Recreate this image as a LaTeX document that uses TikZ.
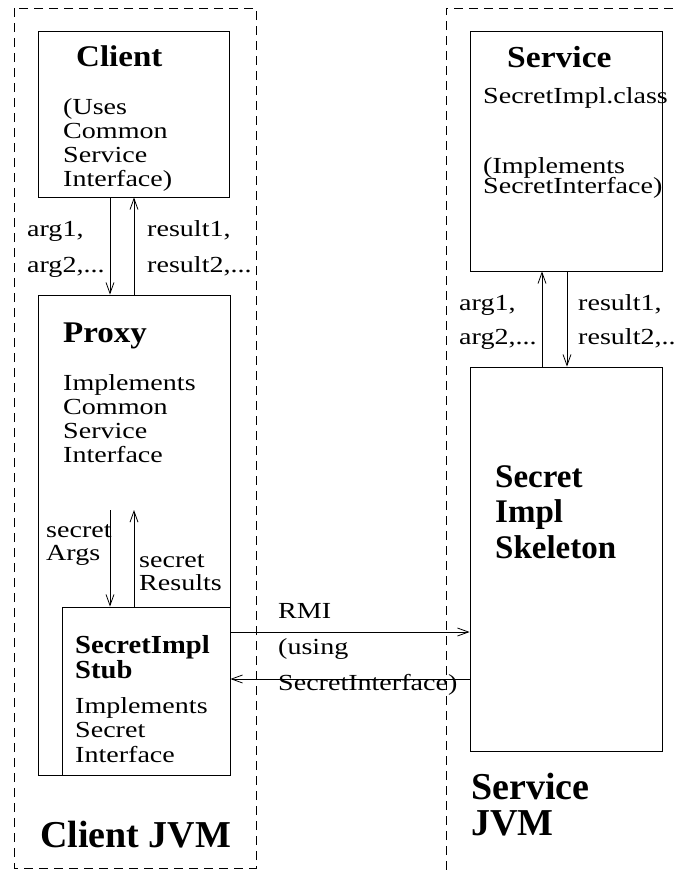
\documentclass[tikz,border=0pt]{standalone}
\usepackage{fontspec}
\setmainfont{Liberation Serif}[FakeStretch=1.22]
\newfontfamily\ttlfont{Liberation Serif}[FakeStretch=1.1]
\newfontfamily\bigfont{Liberation Serif}
\newcommand\tightlines{\lineskiplimit=-50pt\relax}
\usetikzlibrary{arrows.meta}
\begin{document}
\begin{tikzpicture}[x=1pt,y=-1pt,
  box/.style={draw, line width=0.8pt, inner sep=0pt, fill=white},
  arr/.style={line width=0.8pt, -{Straight Barb[length=11pt,width=8pt]}},
  jvm/.style={line width=0.8pt, dash pattern=on 9pt off 6pt},
  txt/.style={anchor=base west, inner sep=0pt, align=left, font=\fontsize{23}{24}\selectfont},
  lbl/.style={anchor=base west, inner sep=0pt, align=left, font=\fontsize{23}{36}\selectfont},
  ttl/.style={anchor=base west, inner sep=0pt, align=left, font=\ttlfont\bfseries\fontsize{30}{30}\selectfont},
  big/.style={anchor=base west, inner sep=0pt, align=left, font=\bigfont\bfseries\fontsize{38}{36}\selectfont}
]
\useasboundingbox (0,0) rectangle (676,870);
% JVM regions
\draw[jvm] (14,8) rectangle (256,868);
\draw[jvm] (446,870) -- (446,8) -- (676,8);
% boxes
\node[box, minimum width=191pt, minimum height=166pt] (client) at (133.5,114) {};
\node[box, minimum width=192pt, minimum height=480pt] (proxy) at (134,535) {};
\node[box, minimum width=168pt, minimum height=168pt] (stub) at (146,691) {};
\node[box, minimum width=192pt, minimum height=240pt] (service) at (566,151) {};
\node[box, minimum width=192pt, minimum height=384pt] (skel) at (566,559) {};
% texts (multi-line nodes anchored at the baseline of their last line)
\node[ttl] (clientT) at (76,66) {Client};
\node[txt, font=\fontsize{23}{23.7}\selectfont] (clientB) at (63,186) {(Uses\\Common\\Service\\Interface)};
\node[lbl] (argsL) at (27,272) {arg1,\\arg2,...};
\node[lbl] (resL) at (147,272) {result1,\\result2,...};
\node[ttl] (proxyT) at (63,342) {Proxy};
\node[txt] (proxyB) at (63,462) {Implements\\Common\\Service\\Interface};
\node[txt, font=\fontsize{23}{23}\selectfont] (sargs) at (46,560) {secret\\Args};
\node[txt, font=\fontsize{23}{23}\selectfont] (sres) at (139,590) {secret\\Results};
\node[ttl, font=\ttlfont\bfseries\fontsize{26}{25}\selectfont] (stubT) at (75,678) {SecretImpl\\Stub};
\node[txt, font=\fontsize{23}{24.5}\selectfont] (stubB) at (75,762) {Implements\\Secret\\Interface};
\node[big] (cjvm) at (40,847) {Client JVM};
\node[ttl, font=\ttlfont\bfseries\fontsize{30.5}{30}\selectfont] (serviceT) at (507,67) {Service};
\node[txt] (serviceB1) at (483,103) {SecretImpl.class};
\node[txt, font=\fontsize{23}{20}\selectfont\tightlines] (serviceB2) at (483,193) {(Implements\\SecretInterface)};
\node[lbl, font=\fontsize{23}{34}\selectfont] (argsR) at (459,344) {arg1,\\arg2,...};
\node[lbl, font=\fontsize{23}{34}\selectfont] (resR) at (578,344) {result1,\\result2,...};
\node[big, font=\bigfont\bfseries\fontsize{33}{35.5}\selectfont] (skelT) at (495,558) {Secret\\Impl\\Skeleton};
\node[lbl] (rmi) at (278,690) {RMI\\(using\\SecretInterface)};
\node[big] (sjvm) at (471,835) {Service\\JVM};
% connectors
\draw[arr] (110,0 |- client.south) -- (110,0 |- proxy.north);
\draw[arr] (134,0 |- proxy.north) -- (134,0 |- client.south);
\coordinate (sa) at (110,510);
\coordinate (sr) at (134,510);
\draw[arr] (sa) -- (110,0 |- stub.north);
\draw[arr] (134,0 |- stub.north) -- (sr);
\draw[arr] (542,0 |- skel.north) -- (542,0 |- service.south);
\draw[arr] (567,0 |- service.south) -- (567,0 |- skel.north);
\draw[arr] (stub.east |- 0,632) -- (skel.west |- 0,632);
\draw[arr] (skel.west |- 0,679) -- (stub.east |- 0,679);
\end{tikzpicture}
\end{document}
